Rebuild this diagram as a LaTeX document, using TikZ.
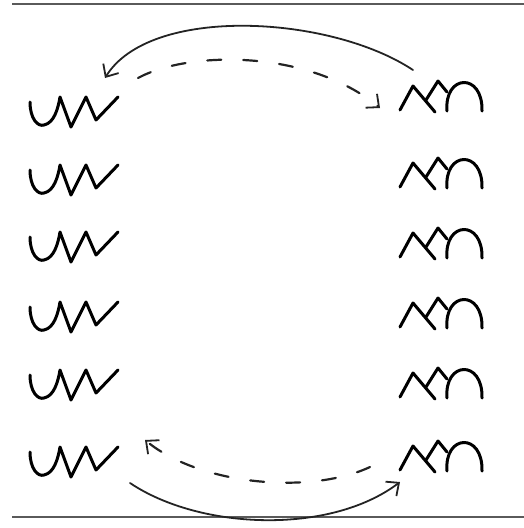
\documentclass[tikz,border=0pt]{standalone}
\usetikzlibrary{arrows.meta}
\definecolor{inkgray}{RGB}{35,35,35}
\definecolor{rulegray}{RGB}{90,90,90}

\tikzset{
  glyph/.style={line width=3pt,line cap=round,line join=round,black},
  link/.style={line width=1.8pt,inkgray,line cap=round,
    -{Straight Barb[length=10pt,width=18pt,line width=1.8pt]}},
  dashlink/.style={link,line width=2.2pt,dash pattern=on 14pt off 22pt},
  pagerule/.style={line width=1.4pt,rulegray},
  pics/cupw/.style={code={
    \draw[glyph] (0,5) .. controls (0,22) and (8,30) .. (14,28)
      .. controls (24,26) and (28,12) .. (30,0) -- (41,30) -- (56,0) -- (66,23) -- (88,0);}},
  pics/capn/.style={code={
    \draw[glyph] (0,30) -- (13,6) -- (35,32);
    \draw[glyph] (26,20) -- (38,1) -- (47,12);
    \draw[glyph] (47,31) .. controls (44,-6) and (83,-8) .. (82,31);}}
}

\begin{document}
\begin{tikzpicture}[x=1pt,y=-1pt]
    \useasboundingbox (0,0) rectangle (524,528);

    % Page rules
    \coordinate (TL) at (12,4);
    \coordinate (TR) at (524,4);
    \coordinate (BL) at (12,517);
    \coordinate (BR) at (524,517);
    \draw[pagerule] (TL) -- (TR);
    \draw[pagerule] (BL) -- (BR);

    % Glyph columns
    \foreach \r/\ly/\ry in {1/97/80,2/165/157,3/232/227,4/302/297,5/370/367,6/447/440}{
        \coordinate (L\r) at (30,\ly);
        \coordinate (R\r) at (400,\ry);
        \pic at (L\r) {cupw};
        \pic at (R\r) {capn};
    }

    % Arrow ends
    \coordinate (topA) at (413,70);
    \coordinate (topB) at (105,78);
    \coordinate (topC) at (138,78);
    \coordinate (topD) at (380,108);
    \coordinate (botA) at (370,467);
    \coordinate (botB) at (145,440);
    \coordinate (botC) at (130,483);
    \coordinate (botD) at (400,482);

    % Top swap
    \draw[link] (topA) .. controls (330,15) and (150,5) .. (topB);
    \draw[dashlink] (topC) .. controls (190,50) and (310,50) .. (topD);

    % Bottom swap
    \draw[dashlink] (botA) .. controls (310,495) and (200,485) .. (botB);
    \draw[link] (botC) .. controls (200,530) and (330,535) .. (botD);
\end{tikzpicture}
\end{document}
